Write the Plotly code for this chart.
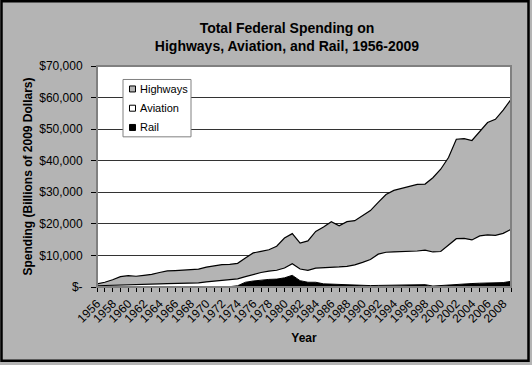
import plotly.graph_objects as go

years = list(range(1956, 2010))

# stacked tops (millions of 2009 dollars)
total_top = [1000, 1500, 2300, 3300, 3600, 3400, 3700, 4000, 4600, 5100,
             5200, 5300, 5450, 5650, 6300, 6750, 7100, 7150, 7500, 9200,
             10800, 11300, 11800, 12900, 15500, 16900, 13900, 14600, 17600, 19000,
             20700, 19400, 20700, 21000, 22600, 24200, 26800, 29300, 30600, 31300,
             31900, 32500, 32600, 34600, 37300, 41000, 46800, 47000, 46400, 49400,
             52100, 53100, 56000, 59400]
aviation_top = [400, 500, 600, 700, 800, 850, 900, 950, 1000, 1050,
                1100, 1150, 1200, 1300, 1600, 1800, 2000, 2300, 2600, 3300,
                4000, 4600, 5000, 5300, 6000, 7400, 5700, 5300, 6000, 6050,
                6200, 6350, 6550, 7000, 7800, 8700, 10400, 11000, 11100, 11150,
                11200, 11400, 11700, 11100, 11250, 13300, 15300, 15400, 14900, 16200,
                16500, 16350, 17000, 18250]
rail = [50, 50, 50, 50, 50, 50, 50, 50, 50, 50,
        50, 50, 50, 50, 50, 50, 50, 100, 400, 1500,
        1900, 2200, 2400, 2500, 2900, 3700, 2000, 1500, 1500, 1000,
        900, 700, 600, 500, 450, 450, 500, 550, 600, 650,
        700, 750, 750, 300, 500, 600, 900, 900, 1100, 1200,
        1200, 1300, 1400, 1800]

aviation = [a - r for a, r in zip(aviation_top, rail)]
highways = [t - a for t, a in zip(total_top, aviation_top)]

series_names = ["Highways", "Aviation", "Rail"]

y_ticks = [0, 10000, 20000, 30000, 40000, 50000, 60000, 70000]
y_labels = ["$-", "$10,000", "$20,000", "$30,000", "$40,000", "$50,000", "$60,000", "$70,000"]
x_ticks = list(range(1956, 2009, 2))

BG = "#b4b4b4"
FONT = "Liberation Sans, Arial, sans-serif"
fills = {"Highways": BG, "Aviation": "white", "Rail": "black"}

fig = go.Figure()
fig.add_trace(go.Scatter(x=years, y=rail, stackgroup="s", mode="lines",
                         line=dict(color="black", width=1), fillcolor=fills["Rail"],
                         name="Rail", showlegend=False))
fig.add_trace(go.Scatter(x=years, y=aviation, stackgroup="s", mode="lines",
                         line=dict(color="black", width=1.2), fillcolor=fills["Aviation"],
                         name="Aviation", showlegend=False))
fig.add_trace(go.Scatter(x=years, y=highways, stackgroup="s", mode="lines",
                         line=dict(color="black", width=1.2), fillcolor=fills["Highways"],
                         name="Highways", showlegend=False))

L, R, T, B = 97, 21, 66, 77.5
W, H = 532, 365
pw, ph = W - L - R, H - T - B

def px(x):
    return (x - L) / pw

def py(y):
    return (H - B - y) / ph

shapes = [
    # plot frame
    dict(type="rect", xref="paper", yref="paper", x0=0, x1=1, y0=0, y1=1,
         line=dict(color="#808080", width=2), layer="above"),
    # outer chart border
    dict(type="rect", xref="paper", yref="paper",
         x0=px(1.5), x1=px(528.5), y0=py(361.5), y1=py(1),
         line=dict(color="black", width=2.5), layer="above"),
    # legend box
    dict(type="rect", xref="paper", yref="paper",
         x0=px(123), x1=px(191), y0=py(137), y1=py(79.5),
         line=dict(color="#808080", width=1), fillcolor="white", layer="above"),
]
annotations = []
for i, name in enumerate(series_names):
    cy = 89 + i * 19.3
    shapes.append(dict(type="rect", xref="paper", yref="paper",
                       x0=px(129.5), x1=px(135.5), y0=py(cy + 3), y1=py(cy - 3),
                       line=dict(color="black", width=1), fillcolor=fills[name], layer="above"))
    annotations.append(dict(text=name, xref="paper", yref="paper", x=px(137.5), y=py(cy),
                            xanchor="left", yanchor="middle", showarrow=False,
                            font=dict(size=11, family=FONT, color="black")))

fig.update_layout(
    width=W, height=H,
    margin=dict(l=L, r=R, t=T, b=B),
    paper_bgcolor=BG, plot_bgcolor="white",
    font=dict(family=FONT, size=11, color="black"),
    title=dict(text="<b>Total Federal Spending on<br>Highways, Aviation, and Rail, 1956-2009</b>",
               x=287 / W, xanchor="center", y=1 - 33 / H, yanchor="middle",
               font=dict(size=14, family=FONT)),
    showlegend=False,
    xaxis=dict(range=[1956, 2009], tickmode="array", tickvals=x_ticks,
               ticktext=[str(v) for v in x_ticks], tickangle=-45,
               ticks="outside", ticklen=4, tickcolor="black",
               minor=dict(dtick=1, tick0=1956, ticks="outside", ticklen=4, tickcolor="black"),
               showgrid=False, zeroline=False, showline=True, linecolor="black", linewidth=1,
               title=dict(text="<b>Year</b>", font=dict(size=12), standoff=8),
               tickfont=dict(size=12)),
    yaxis=dict(range=[0, 70000], tickmode="array", tickvals=y_ticks, ticktext=y_labels,
               ticks="outside", ticklen=5, tickcolor="black", ticklabelstandoff=6,
               showgrid=True, gridcolor="#333333", gridwidth=1, zeroline=False,
               showline=True, linecolor="black", linewidth=1,
               title=dict(text="<b>Spending (Billions of 2009 Dollars)</b>", font=dict(size=12), standoff=4),
               tickfont=dict(size=12)),
    shapes=shapes,
    annotations=annotations,
)

fig.write_html("out.html", config={"displayModeBar": False},
               post_script="document.body.style.margin='0';document.body.style.overflow='hidden';")
